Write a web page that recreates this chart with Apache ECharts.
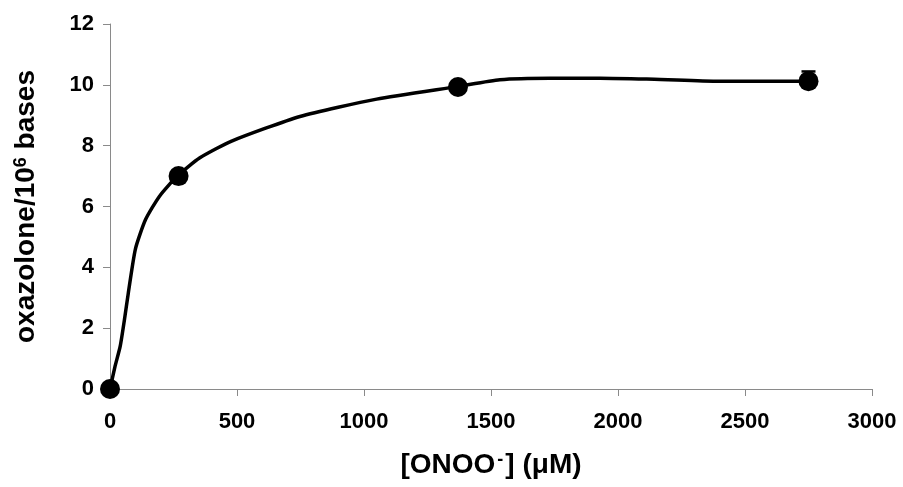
<!DOCTYPE html>
<html>
<head>
<meta charset="utf-8">
<title>oxazolone vs ONOO-</title>
<script src="https://cdn.jsdelivr.net/npm/echarts@6/dist/echarts.min.js"></script>
<style>
  html, body { margin: 0; padding: 0; background: #fff; }
  #main { width: 903px; height: 487px; }
</style>
</head>
<body>
<div id="main"></div>
<script>
// measured points
var doseX = [0, 270, 1370, 2750];
var oxaY = [0, 7.0, 9.93, 10.12];
var errY = [0, 0, 0, 0.32];

// fitted curve
var curveX = [0, 20, 40, 59, 72, 100, 140, 195, 265, 354, 479, 748, 1050, 1371, 1535, 1732, 1929, 2113, 2375, 2750];
var curveY = [0, 0.75, 1.4, 2.4, 3.15, 4.6, 5.57, 6.34, 7.0, 7.6, 8.15, 8.96, 9.53, 9.95, 10.17, 10.22, 10.22, 10.19, 10.12, 10.12];

var xTicks = [0, 500, 1000, 1500, 2000, 2500, 3000];
var yTicks = [0, 2, 4, 6, 8, 10, 12];

var chart = echarts.init(document.getElementById('main'));

var font = 'Liberation Sans, Arial, sans-serif';
var axisGray = '#8a8a8a';

var option = {
  backgroundColor: '#fff',
  animation: false,
  grid: { left: 110, right: 31, top: 24, bottom: 98, containLabel: false },
  xAxis: {
    type: 'value',
    min: xTicks[0],
    max: xTicks[xTicks.length - 1],
    interval: xTicks[1] - xTicks[0],
    name: '{a|[ONOO}{s|-}{a|] (\u03bcM)}',
    nameLocation: 'middle',
    nameGap: 62,
    nameTextStyle: {
      rich: {
        a: { fontSize: 28, fontWeight: 'bold', fontFamily: font, color: '#000' },
        s: { fontSize: 18, fontWeight: 'bold', fontFamily: font, color: '#000', verticalAlign: 'top', padding: [0, 2, 0, 2] }
      }
    },
    axisLine: { show: true, lineStyle: { color: axisGray, width: 1 } },
    axisTick: { show: true, length: 7, lineStyle: { color: axisGray } },
    axisLabel: {
      margin: 22, fontSize: 22, fontWeight: 'bold', fontFamily: font, color: '#000',
      formatter: function (v) { return String(v); }
    },
    splitLine: { show: false }
  },
  yAxis: {
    type: 'value',
    min: yTicks[0],
    max: yTicks[yTicks.length - 1],
    interval: yTicks[1] - yTicks[0],
    name: '{a|oxazolone/10}{s|6}{a| bases}',
    nameLocation: 'middle',
    nameGap: 70,
    nameRotate: 90,
    nameTextStyle: {
      rich: {
        a: { fontSize: 28, fontWeight: 'bold', fontFamily: font, color: '#000' },
        s: { fontSize: 18, fontWeight: 'bold', fontFamily: font, color: '#000', verticalAlign: 'top' }
      }
    },
    axisLine: { show: true, lineStyle: { color: axisGray, width: 1 } },
    axisTick: { show: true, length: 7, lineStyle: { color: axisGray } },
    axisLabel: {
      margin: 16, fontSize: 22, fontWeight: 'bold', fontFamily: font, color: '#000',
      formatter: function (v) { return String(v); }
    },
    splitLine: { show: false }
  },
  series: [
    {
      name: 'fit',
      type: 'line',
      data: curveX.map(function (x, i) { return [x, curveY[i]]; }),
      showSymbol: false,
      smooth: 0.2,
      lineStyle: { color: '#000', width: 3.5 },
      z: 2
    },
    {
      name: 'error',
      type: 'custom',
      data: doseX.map(function (x, i) { return [x, oxaY[i], errY[i]]; }),
      renderItem: function (params, api) {
        if (!api.value(2)) return;
        var p0 = api.coord([api.value(0), api.value(1)]);
        var p1 = api.coord([api.value(0), api.value(1) + api.value(2)]);
        var style = { stroke: '#000', lineWidth: 2.5 };
        return {
          type: 'group',
          children: [
            { type: 'line', shape: { x1: p0[0], y1: p0[1], x2: p1[0], y2: p1[1] }, style: style },
            { type: 'line', shape: { x1: p1[0] - 7, y1: p1[1], x2: p1[0] + 7, y2: p1[1] }, style: style }
          ]
        };
      },
      z: 3
    },
    {
      name: 'data',
      type: 'scatter',
      data: doseX.map(function (x, i) { return [x, oxaY[i]]; }),
      symbol: 'circle',
      symbolSize: 20,
      itemStyle: { color: '#000', opacity: 1 },
      z: 4
    }
  ]
};

chart.setOption(option);
</script>
</body>
</html>
